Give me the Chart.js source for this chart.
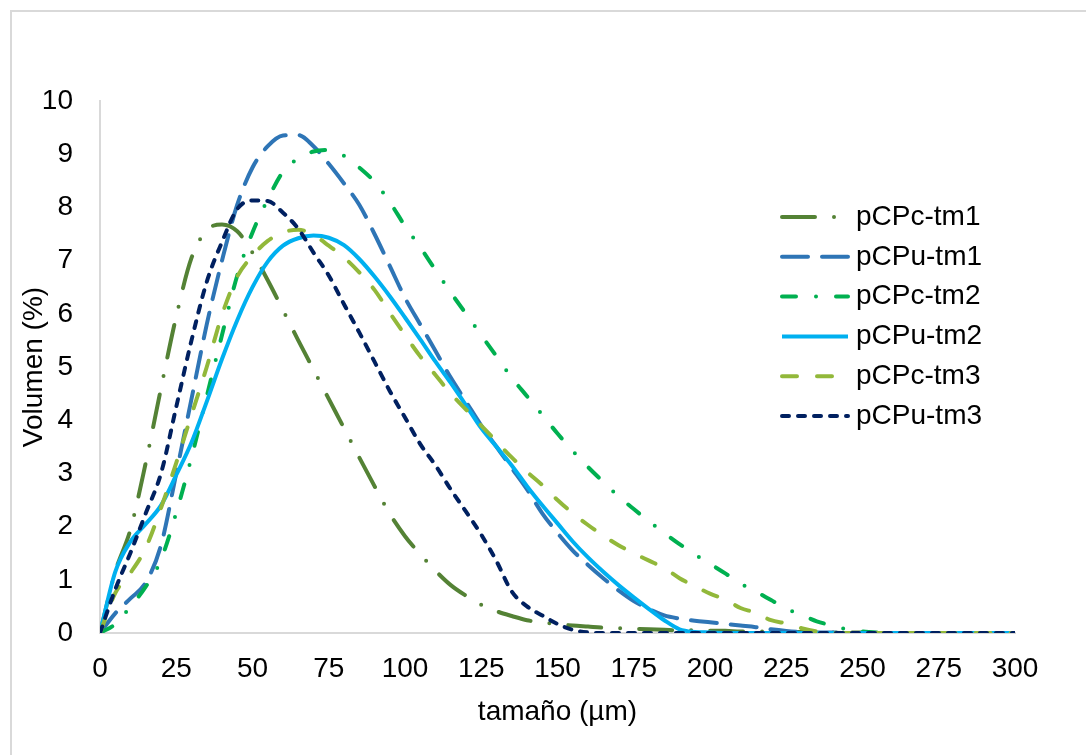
<!DOCTYPE html>
<html><head><meta charset="utf-8">
<script src="https://cdn.jsdelivr.net/npm/chart.js@4.4.1/dist/chart.umd.min.js"></script>
<style>
html,body{margin:0;padding:0;background:#fff;overflow:hidden;}
#wrap{position:relative;width:1086px;height:755px;overflow:hidden;}
#frame{position:absolute;left:10px;top:10px;width:1200px;height:900px;border:2px solid #D9D9D9;box-sizing:border-box;}
canvas{position:absolute;left:0;top:0;}
</style></head>
<body><div id="wrap"><div id="frame"></div><canvas id="c" width="1086" height="755"></canvas></div>
<script>
const sizes = [0,5,10,15,20,25,30,35,40,45,50,55,60,65,70,75,80,85,90,95,100,105,110,115,120,125,130,135,140,145,150,155,160,165,170,175,180,185,190,195,200,205,210,215,220,225,230,235,240,245,250,255,260,265,270,275,280,285,290,295,300];
const pCPc_tm1 = [0,1.15,1.95,3.2,4.6,5.95,7.05,7.57,7.68,7.55,7.15,6.63,6.07,5.5,4.95,4.4,3.85,3.3,2.76,2.24,1.82,1.48,1.17,0.9,0.7,0.53,0.41,0.32,0.24,0.2,0.17,0.14,0.12,0.1,0.09,0.08,0.07,0.06,0.05,0.05,0.04,0.04,0.03,0.03,0.02,0.02,0.02,0.01,0.01,0.01,0.01,0,0,0,0,0,0,0,0,0,0];
const pCPu_tm1 = [0,0.37,0.65,0.95,1.65,3.0,4.4,5.8,7.0,8.05,8.75,9.15,9.35,9.36,9.15,8.82,8.45,8.05,7.5,6.9,6.3,5.8,5.3,4.8,4.35,3.9,3.5,3.1,2.7,2.25,1.88,1.55,1.28,1.03,0.8,0.6,0.45,0.33,0.27,0.23,0.2,0.17,0.14,0.11,0.07,0.04,0.02,0.01,0.01,0,0,0,0,0,0,0,0,0,0,0,0];
const pCPc_tm2 = [0,0.17,0.5,0.87,1.38,2.26,3.3,4.45,5.6,6.72,7.53,8.15,8.67,8.92,9.05,9.08,8.97,8.75,8.48,8.1,7.65,7.25,6.82,6.4,6.0,5.6,5.2,4.8,4.45,4.1,3.75,3.42,3.12,2.84,2.57,2.33,2.1,1.88,1.67,1.48,1.3,1.12,0.93,0.78,0.62,0.46,0.34,0.22,0.14,0.07,0.03,0.01,0,0,0,0,0,0,0,0,0];
const pCPu_tm2 = [0,1.15,1.72,2.05,2.4,2.97,3.58,4.35,5.15,5.88,6.5,6.98,7.28,7.42,7.47,7.43,7.29,7.03,6.7,6.33,5.93,5.52,5.1,4.7,4.28,3.85,3.5,3.15,2.76,2.4,2.06,1.72,1.42,1.15,0.9,0.67,0.45,0.24,0.07,0.02,0.01,0,0,0,0,0,0,0,0,0,0,0,0,0,0,0,0,0,0,0,0];
const pCPc_tm3 = [0,0.75,1.13,1.6,2.35,3.2,4.1,5.0,5.98,6.7,7.09,7.37,7.53,7.58,7.48,7.28,7.06,6.78,6.45,6.02,5.6,5.2,4.85,4.5,4.2,3.9,3.6,3.3,3.03,2.78,2.5,2.25,2.03,1.83,1.65,1.5,1.36,1.22,1.03,0.88,0.74,0.63,0.47,0.38,0.24,0.18,0.09,0.03,0.01,0,0,0,0,0,0,0,0,0,0,0,0];
const pCPu_tm3 = [0,0.82,1.51,2.25,3.0,4.25,5.5,6.6,7.35,7.97,8.13,8.12,7.9,7.6,7.15,6.72,6.18,5.65,5.1,4.55,4.05,3.55,3.15,2.7,2.28,1.85,1.35,0.78,0.5,0.33,0.17,0.06,0.01,0,0,0,0,0,0,0,0,0,0,0,0,0,0,0,0,0,0,0,0,0,0,0,0,0,0,0,0];
const seriesNames = ['pCPc-tm1','pCPu-tm1','pCPc-tm2','pCPu-tm2','pCPc-tm3','pCPu-tm3'];
const xTicks = [0,25,50,75,100,125,150,175,200,225,250,275,300];
const yTicks = [0,1,2,3,4,5,6,7,8,9,10];

const seriesValues = [pCPc_tm1,pCPu_tm1,pCPc_tm2,pCPu_tm2,pCPc_tm3,pCPu_tm3];
const styles = [
  {color:'#548235', dash:[33,19,0,19]},
  {color:'#2E75B6', dash:[26,14]},
  {color:'#00B050', dash:[14,20,0,20]},
  {color:'#00B0F0', dash:[]},
  {color:'#92B83A', dash:[15,20]},
  {color:'#002060', dash:[7,9]}
];
const FONT = '"Liberation Sans", Arial, sans-serif';
Chart.defaults.font.family = FONT;
Chart.defaults.font.size = 28;
Chart.defaults.color = '#000';

const datasets = seriesValues.map((vals, i) => ({
  label: seriesNames[i],
  data: sizes.map((x, j) => ({x: x, y: vals[j]})),
  borderColor: styles[i].color,
  backgroundColor: styles[i].color,
  borderWidth: 4,
  borderDash: styles[i].dash,
  borderCapStyle: styles[i].dash.length ? 'round' : 'butt',
  borderJoinStyle: 'round',
  pointRadius: 0,
  fill: false,
  cubicInterpolationMode: 'monotone',
  order: seriesValues.length - i
}));

const legendPlugin = {
  id: 'sideLegend',
  afterDraw(chart) {
    const ctx = chart.ctx;
    const x0 = 782, x1 = 848, xt = 856, y0 = 217, dy = 39.8;
    chart.data.datasets.forEach((ds, i) => {
      const y = y0 + i * dy;
      ctx.save();
      ctx.strokeStyle = ds.borderColor;
      ctx.lineWidth = ds.borderWidth;
      ctx.lineCap = ds.borderCapStyle;
      ctx.setLineDash(ds.borderDash || []);
      ctx.beginPath(); ctx.moveTo(x0, y); ctx.lineTo(x1, y); ctx.stroke();
      ctx.setLineDash([]);
      ctx.fillStyle = '#000';
      ctx.font = '28px ' + FONT;
      ctx.textBaseline = 'middle';
      ctx.textAlign = 'left';
      ctx.fillText(ds.label, xt, y);
      ctx.restore();
    });
  }
};

new Chart(document.getElementById('c'), {
  type: 'line',
  data: { datasets },
  options: {
    responsive: false,
    animation: false,
    devicePixelRatio: 1,
    layout: { padding: { left: 0, right: 71, top: 101, bottom: 0 } },
    plugins: { legend: { display: false }, tooltip: { enabled: false } },
    scales: {
      x: {
        type: 'linear', min: 0, max: 300,
        afterFit: (s) => { s.height = 122; },
        afterBuildTicks: (s) => { s.ticks = xTicks.map(v => ({value: v})); },
        grid: { display: false, drawTicks: false },
        border: { display: true, color: '#D9D9D9', width: 2 },
        ticks: { padding: 19, font: { size: 28 }, color: '#000', maxRotation: 0, autoSkip: false },
        title: { display: true, text: 'tamaño (µm)', font: { size: 28 }, color: '#000', padding: { top: 0, bottom: 26 } }
      },
      y: {
        type: 'linear', min: 0, max: 10,
        afterFit: (s) => { s.width = 100; },
        afterBuildTicks: (s) => { s.ticks = yTicks.map(v => ({value: v})); },
        grid: { display: false, drawTicks: false },
        border: { display: true, color: '#D9D9D9', width: 2 },
        ticks: { padding: 27, font: { size: 28 }, color: '#000', autoSkip: false },
        title: { display: true, text: 'Volumen (%)', font: { size: 28 }, color: '#000', padding: { top: 17, bottom: 0 } }
      }
    }
  },
  plugins: [legendPlugin]
});
</script></body></html>
